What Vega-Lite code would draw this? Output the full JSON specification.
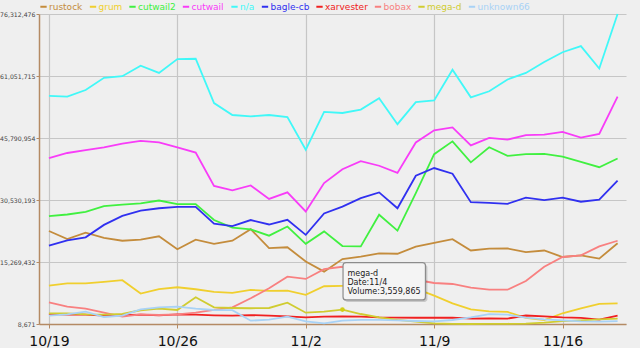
{
  "$schema": "https://vega.github.io/schema/vega-lite/v6.json",
  "width": 587,
  "height": 310,
  "autosize": {"type": "none"},
  "padding": {"left": 39, "top": 14, "right": 14, "bottom": 24},
  "background": "#efefef",
  "config": {
    "view": {"stroke": null},
    "font": "DejaVu Sans",
    "axis": {"titleFont": "DejaVu Sans", "labelFont": "DejaVu Sans"}
  },
  "resolve": {"axis": {"x": "independent", "y": "independent"}},
  "layer": [
    {
      "data": {"name": "series"},
      "mark": {"type": "line", "strokeWidth": 1.8},
      "encoding": {
        "x": {
          "field": "date", "type": "temporal", "title": null,
          "scale": {"type": "utc", "domain": [{"year": 2009, "month": 10, "date": 18, "hours": 11, "utc": true}, {"year": 2009, "month": 11, "date": 19, "hours": 11, "utc": true}]},
          "axis": {
            "values": [{"year": 2009, "month": 10, "date": 19, "utc": true}, {"year": 2009, "month": 10, "date": 26, "utc": true}, {"year": 2009, "month": 11, "date": 2, "utc": true}, {"year": 2009, "month": 11, "date": 9, "utc": true}, {"year": 2009, "month": 11, "date": 16, "utc": true}],
            "labelExpr": "utcFormat(datum.value, '%-m/%-d')", "labelFlush": false,
            "labelFontSize": 14, "labelColor": "#111111", "labelPadding": 6.5,
            "tickSize": 4, "tickColor": "#b48a64", "domainColor": "#b48a64", "domainWidth": 1.5,
            "grid": true, "gridColor": "#c6c6c6", "gridWidth": 1.2
          }
        },
        "y": {
          "field": "value", "type": "quantitative", "title": null,
          "scale": {"domain": [8671, 76312476], "nice": false, "zero": false},
          "axis": {
            "values": [8671, 15269432, 30530193, 45790954, 61051715, 76312476],
            "format": ",d", "labelFlush": false,
            "labelFontSize": 6.2, "labelColor": "#444444", "labelPadding": 1,
            "tickSize": 3, "tickColor": "#b48a64", "domainColor": "#b48a64", "domainWidth": 1.5,
            "grid": true, "gridColor": "#c6c6c6", "gridWidth": 1.2
          }
        },
        "color": {
          "field": "series", "type": "nominal",
          "scale": {
            "domain": ["rustock", "grum", "cutwail2", "cutwail", "n/a", "bagle-cb", "xarvester", "bobax", "mega-d", "unknown66"],
            "range": ["#c48c3c", "#f0cf2e", "#40f040", "#f83cf8", "#40f8f8", "#3030f0", "#f02020", "#f88080", "#d0cc30", "#a8d2f6"]
          },
          "legend": {
            "orient": "none", "direction": "horizontal", "legendX": 0, "legendY": -12,
            "title": null, "padding": 0, "columnPadding": 2.5, "labelOffset": 1,
            "labelFontSize": 9, "labelFont": "DejaVu Sans",
            "symbolType": "stroke", "symbolStrokeWidth": 2, "symbolSize": 40,
            "encode": {"labels": {"update": {"fill": {"scale": "color", "field": "value"}}}}
          }
        }
      }
    },
    {
      "data": {"name": "tip"},
      "mark": {"type": "point", "shape": "circle", "filled": true, "size": 22, "fill": "#d2ce14", "opacity": 1},
      "encoding": {
        "x": {"field": "date", "type": "temporal", "axis": null},
        "y": {"field": "value", "type": "quantitative", "axis": null}
      }
    },
    {
      "data": {"name": "tip"},
      "mark": {"type": "rect", "fill": "#000000", "opacity": 0.16, "cornerRadius": 3,
        "xOffset": 2.2, "x2Offset": 85, "yOffset": -45, "y2Offset": -7.6},
      "encoding": {
        "x": {"field": "date", "type": "temporal", "axis": null},
        "x2": {"field": "date"},
        "y": {"field": "value", "type": "quantitative", "axis": null},
        "y2": {"field": "value"}
      }
    },
    {
      "data": {"name": "tip"},
      "mark": {"type": "rect", "fill": "#f4f4f4", "stroke": "#8c8c8c", "strokeWidth": 1.2, "opacity": 1, "cornerRadius": 3,
        "xOffset": 0.6, "x2Offset": 83, "yOffset": -47, "y2Offset": -9.6},
      "encoding": {
        "x": {"field": "date", "type": "temporal", "axis": null},
        "x2": {"field": "date"},
        "y": {"field": "value", "type": "quantitative", "axis": null},
        "y2": {"field": "value"}
      }
    },
    {
      "data": {"name": "tip"},
      "mark": {"type": "text", "align": "left", "baseline": "top", "dx": 5, "dy": -40, "fontSize": 8, "lineHeight": 9, "lineBreak": "|", "font": "DejaVu Sans", "color": "#222222"},
      "encoding": {
        "x": {"field": "date", "type": "temporal", "axis": null},
        "y": {"field": "value", "type": "quantitative", "axis": null},
        "text": {"field": "tip", "type": "nominal"}
      }
    }
  ],
  "datasets": {
    "tip": [
      {"series": "mega-d", "date": "2009-11-04", "value": 3559865, "tip": "mega-d|Date:11/4|Volume:3,559,865"}
    ],
    "series": [
      {"series": "rustock", "date": "2009-10-19", "value": 22900000},
      {"series": "rustock", "date": "2009-10-20", "value": 20900000},
      {"series": "rustock", "date": "2009-10-21", "value": 22500000},
      {"series": "rustock", "date": "2009-10-22", "value": 21200000},
      {"series": "rustock", "date": "2009-10-23", "value": 20500000},
      {"series": "rustock", "date": "2009-10-24", "value": 20800000},
      {"series": "rustock", "date": "2009-10-25", "value": 21600000},
      {"series": "rustock", "date": "2009-10-26", "value": 18400000},
      {"series": "rustock", "date": "2009-10-27", "value": 20750000},
      {"series": "rustock", "date": "2009-10-28", "value": 19750000},
      {"series": "rustock", "date": "2009-10-29", "value": 20500000},
      {"series": "rustock", "date": "2009-10-30", "value": 23350000},
      {"series": "rustock", "date": "2009-10-31", "value": 18700000},
      {"series": "rustock", "date": "2009-11-01", "value": 18900000},
      {"series": "rustock", "date": "2009-11-02", "value": 15400000},
      {"series": "rustock", "date": "2009-11-03", "value": 12900000},
      {"series": "rustock", "date": "2009-11-04", "value": 16000000},
      {"series": "rustock", "date": "2009-11-05", "value": 16600000},
      {"series": "rustock", "date": "2009-11-06", "value": 17400000},
      {"series": "rustock", "date": "2009-11-07", "value": 17300000},
      {"series": "rustock", "date": "2009-11-08", "value": 19050000},
      {"series": "rustock", "date": "2009-11-09", "value": 20000000},
      {"series": "rustock", "date": "2009-11-10", "value": 20900000},
      {"series": "rustock", "date": "2009-11-11", "value": 18100000},
      {"series": "rustock", "date": "2009-11-12", "value": 18550000},
      {"series": "rustock", "date": "2009-11-13", "value": 18600000},
      {"series": "rustock", "date": "2009-11-14", "value": 17700000},
      {"series": "rustock", "date": "2009-11-15", "value": 18100000},
      {"series": "rustock", "date": "2009-11-16", "value": 16500000},
      {"series": "rustock", "date": "2009-11-17", "value": 16900000},
      {"series": "rustock", "date": "2009-11-18", "value": 16100000},
      {"series": "rustock", "date": "2009-11-19", "value": 19900000},
      {"series": "grum", "date": "2009-10-19", "value": 9450000},
      {"series": "grum", "date": "2009-10-20", "value": 10000000},
      {"series": "grum", "date": "2009-10-21", "value": 10000000},
      {"series": "grum", "date": "2009-10-22", "value": 10400000},
      {"series": "grum", "date": "2009-10-23", "value": 10800000},
      {"series": "grum", "date": "2009-10-24", "value": 7500000},
      {"series": "grum", "date": "2009-10-25", "value": 8600000},
      {"series": "grum", "date": "2009-10-26", "value": 9050000},
      {"series": "grum", "date": "2009-10-27", "value": 8560000},
      {"series": "grum", "date": "2009-10-28", "value": 7900000},
      {"series": "grum", "date": "2009-10-29", "value": 7650000},
      {"series": "grum", "date": "2009-10-30", "value": 8400000},
      {"series": "grum", "date": "2009-10-31", "value": 8150000},
      {"series": "grum", "date": "2009-11-01", "value": 8200000},
      {"series": "grum", "date": "2009-11-02", "value": 7200000},
      {"series": "grum", "date": "2009-11-03", "value": 9300000},
      {"series": "grum", "date": "2009-11-04", "value": 9380000},
      {"series": "grum", "date": "2009-11-05", "value": 9500000},
      {"series": "grum", "date": "2009-11-06", "value": 9600000},
      {"series": "grum", "date": "2009-11-07", "value": 9300000},
      {"series": "grum", "date": "2009-11-08", "value": 8700000},
      {"series": "grum", "date": "2009-11-09", "value": 7000000},
      {"series": "grum", "date": "2009-11-10", "value": 5100000},
      {"series": "grum", "date": "2009-11-11", "value": 3630000},
      {"series": "grum", "date": "2009-11-12", "value": 3100000},
      {"series": "grum", "date": "2009-11-13", "value": 2970000},
      {"series": "grum", "date": "2009-11-14", "value": 1500000},
      {"series": "grum", "date": "2009-11-15", "value": 1000000},
      {"series": "grum", "date": "2009-11-16", "value": 2650000},
      {"series": "grum", "date": "2009-11-17", "value": 3880000},
      {"series": "grum", "date": "2009-11-18", "value": 4940000},
      {"series": "grum", "date": "2009-11-19", "value": 5100000},
      {"series": "cutwail2", "date": "2009-10-19", "value": 26560000},
      {"series": "cutwail2", "date": "2009-10-20", "value": 26960000},
      {"series": "cutwail2", "date": "2009-10-21", "value": 27600000},
      {"series": "cutwail2", "date": "2009-10-22", "value": 29000000},
      {"series": "cutwail2", "date": "2009-10-23", "value": 29400000},
      {"series": "cutwail2", "date": "2009-10-24", "value": 29700000},
      {"series": "cutwail2", "date": "2009-10-25", "value": 30400000},
      {"series": "cutwail2", "date": "2009-10-26", "value": 29500000},
      {"series": "cutwail2", "date": "2009-10-27", "value": 29500000},
      {"series": "cutwail2", "date": "2009-10-28", "value": 25600000},
      {"series": "cutwail2", "date": "2009-10-29", "value": 23750000},
      {"series": "cutwail2", "date": "2009-10-30", "value": 23300000},
      {"series": "cutwail2", "date": "2009-10-31", "value": 21750000},
      {"series": "cutwail2", "date": "2009-11-01", "value": 24000000},
      {"series": "cutwail2", "date": "2009-11-02", "value": 19750000},
      {"series": "cutwail2", "date": "2009-11-03", "value": 22800000},
      {"series": "cutwail2", "date": "2009-11-04", "value": 19200000},
      {"series": "cutwail2", "date": "2009-11-05", "value": 19100000},
      {"series": "cutwail2", "date": "2009-11-06", "value": 26900000},
      {"series": "cutwail2", "date": "2009-11-07", "value": 23000000},
      {"series": "cutwail2", "date": "2009-11-08", "value": 32200000},
      {"series": "cutwail2", "date": "2009-11-09", "value": 41800000},
      {"series": "cutwail2", "date": "2009-11-10", "value": 44960000},
      {"series": "cutwail2", "date": "2009-11-11", "value": 39800000},
      {"series": "cutwail2", "date": "2009-11-12", "value": 43500000},
      {"series": "cutwail2", "date": "2009-11-13", "value": 41400000},
      {"series": "cutwail2", "date": "2009-11-14", "value": 41800000},
      {"series": "cutwail2", "date": "2009-11-15", "value": 41900000},
      {"series": "cutwail2", "date": "2009-11-16", "value": 41200000},
      {"series": "cutwail2", "date": "2009-11-17", "value": 39900000},
      {"series": "cutwail2", "date": "2009-11-18", "value": 38600000},
      {"series": "cutwail2", "date": "2009-11-19", "value": 40750000},
      {"series": "cutwail", "date": "2009-10-19", "value": 40850000},
      {"series": "cutwail", "date": "2009-10-20", "value": 42100000},
      {"series": "cutwail", "date": "2009-10-21", "value": 42800000},
      {"series": "cutwail", "date": "2009-10-22", "value": 43470000},
      {"series": "cutwail", "date": "2009-10-23", "value": 44400000},
      {"series": "cutwail", "date": "2009-10-24", "value": 45100000},
      {"series": "cutwail", "date": "2009-10-25", "value": 44700000},
      {"series": "cutwail", "date": "2009-10-26", "value": 43500000},
      {"series": "cutwail", "date": "2009-10-27", "value": 42200000},
      {"series": "cutwail", "date": "2009-10-28", "value": 34000000},
      {"series": "cutwail", "date": "2009-10-29", "value": 32900000},
      {"series": "cutwail", "date": "2009-10-30", "value": 34100000},
      {"series": "cutwail", "date": "2009-10-31", "value": 30800000},
      {"series": "cutwail", "date": "2009-11-01", "value": 32400000},
      {"series": "cutwail", "date": "2009-11-02", "value": 27700000},
      {"series": "cutwail", "date": "2009-11-03", "value": 34700000},
      {"series": "cutwail", "date": "2009-11-04", "value": 38100000},
      {"series": "cutwail", "date": "2009-11-05", "value": 40100000},
      {"series": "cutwail", "date": "2009-11-06", "value": 38960000},
      {"series": "cutwail", "date": "2009-11-07", "value": 37200000},
      {"series": "cutwail", "date": "2009-11-08", "value": 44700000},
      {"series": "cutwail", "date": "2009-11-09", "value": 47700000},
      {"series": "cutwail", "date": "2009-11-10", "value": 48400000},
      {"series": "cutwail", "date": "2009-11-11", "value": 43960000},
      {"series": "cutwail", "date": "2009-11-12", "value": 45800000},
      {"series": "cutwail", "date": "2009-11-13", "value": 45400000},
      {"series": "cutwail", "date": "2009-11-14", "value": 46500000},
      {"series": "cutwail", "date": "2009-11-15", "value": 46600000},
      {"series": "cutwail", "date": "2009-11-16", "value": 47300000},
      {"series": "cutwail", "date": "2009-11-17", "value": 45900000},
      {"series": "cutwail", "date": "2009-11-18", "value": 46800000},
      {"series": "cutwail", "date": "2009-11-19", "value": 56000000},
      {"series": "n/a", "date": "2009-10-19", "value": 56140000},
      {"series": "n/a", "date": "2009-10-20", "value": 55970000},
      {"series": "n/a", "date": "2009-10-21", "value": 57600000},
      {"series": "n/a", "date": "2009-10-22", "value": 60600000},
      {"series": "n/a", "date": "2009-10-23", "value": 61000000},
      {"series": "n/a", "date": "2009-10-24", "value": 63600000},
      {"series": "n/a", "date": "2009-10-25", "value": 61800000},
      {"series": "n/a", "date": "2009-10-26", "value": 65200000},
      {"series": "n/a", "date": "2009-10-27", "value": 65300000},
      {"series": "n/a", "date": "2009-10-28", "value": 54400000},
      {"series": "n/a", "date": "2009-10-29", "value": 51450000},
      {"series": "n/a", "date": "2009-10-30", "value": 51100000},
      {"series": "n/a", "date": "2009-10-31", "value": 51450000},
      {"series": "n/a", "date": "2009-11-01", "value": 50960000},
      {"series": "n/a", "date": "2009-11-02", "value": 42900000},
      {"series": "n/a", "date": "2009-11-03", "value": 52200000},
      {"series": "n/a", "date": "2009-11-04", "value": 51950000},
      {"series": "n/a", "date": "2009-11-05", "value": 52800000},
      {"series": "n/a", "date": "2009-11-06", "value": 55600000},
      {"series": "n/a", "date": "2009-11-07", "value": 49200000},
      {"series": "n/a", "date": "2009-11-08", "value": 54600000},
      {"series": "n/a", "date": "2009-11-09", "value": 55050000},
      {"series": "n/a", "date": "2009-11-10", "value": 62600000},
      {"series": "n/a", "date": "2009-11-11", "value": 55800000},
      {"series": "n/a", "date": "2009-11-12", "value": 57300000},
      {"series": "n/a", "date": "2009-11-13", "value": 60200000},
      {"series": "n/a", "date": "2009-11-14", "value": 61800000},
      {"series": "n/a", "date": "2009-11-15", "value": 64500000},
      {"series": "n/a", "date": "2009-11-16", "value": 66900000},
      {"series": "n/a", "date": "2009-11-17", "value": 68400000},
      {"series": "n/a", "date": "2009-11-18", "value": 62900000},
      {"series": "n/a", "date": "2009-11-19", "value": 76312476},
      {"series": "bagle-cb", "date": "2009-10-19", "value": 19300000},
      {"series": "bagle-cb", "date": "2009-10-20", "value": 20600000},
      {"series": "bagle-cb", "date": "2009-10-21", "value": 21350000},
      {"series": "bagle-cb", "date": "2009-10-22", "value": 24400000},
      {"series": "bagle-cb", "date": "2009-10-23", "value": 26600000},
      {"series": "bagle-cb", "date": "2009-10-24", "value": 27900000},
      {"series": "bagle-cb", "date": "2009-10-25", "value": 28500000},
      {"series": "bagle-cb", "date": "2009-10-26", "value": 28850000},
      {"series": "bagle-cb", "date": "2009-10-27", "value": 28850000},
      {"series": "bagle-cb", "date": "2009-10-28", "value": 24700000},
      {"series": "bagle-cb", "date": "2009-10-29", "value": 24100000},
      {"series": "bagle-cb", "date": "2009-10-30", "value": 25600000},
      {"series": "bagle-cb", "date": "2009-10-31", "value": 24500000},
      {"series": "bagle-cb", "date": "2009-11-01", "value": 25650000},
      {"series": "bagle-cb", "date": "2009-11-02", "value": 21950000},
      {"series": "bagle-cb", "date": "2009-11-03", "value": 27200000},
      {"series": "bagle-cb", "date": "2009-11-04", "value": 28900000},
      {"series": "bagle-cb", "date": "2009-11-05", "value": 31000000},
      {"series": "bagle-cb", "date": "2009-11-06", "value": 32400000},
      {"series": "bagle-cb", "date": "2009-11-07", "value": 28500000},
      {"series": "bagle-cb", "date": "2009-11-08", "value": 36500000},
      {"series": "bagle-cb", "date": "2009-11-09", "value": 38400000},
      {"series": "bagle-cb", "date": "2009-11-10", "value": 37000000},
      {"series": "bagle-cb", "date": "2009-11-11", "value": 30000000},
      {"series": "bagle-cb", "date": "2009-11-12", "value": 29800000},
      {"series": "bagle-cb", "date": "2009-11-13", "value": 29600000},
      {"series": "bagle-cb", "date": "2009-11-14", "value": 31100000},
      {"series": "bagle-cb", "date": "2009-11-15", "value": 30500000},
      {"series": "bagle-cb", "date": "2009-11-16", "value": 31100000},
      {"series": "bagle-cb", "date": "2009-11-17", "value": 30100000},
      {"series": "bagle-cb", "date": "2009-11-18", "value": 30600000},
      {"series": "bagle-cb", "date": "2009-11-19", "value": 35300000},
      {"series": "xarvester", "date": "2009-10-19", "value": 2470000},
      {"series": "xarvester", "date": "2009-10-20", "value": 2300000},
      {"series": "xarvester", "date": "2009-10-21", "value": 2300000},
      {"series": "xarvester", "date": "2009-10-22", "value": 2050000},
      {"series": "xarvester", "date": "2009-10-23", "value": 2200000},
      {"series": "xarvester", "date": "2009-10-24", "value": 2300000},
      {"series": "xarvester", "date": "2009-10-25", "value": 2150000},
      {"series": "xarvester", "date": "2009-10-26", "value": 2400000},
      {"series": "xarvester", "date": "2009-10-27", "value": 2300000},
      {"series": "xarvester", "date": "2009-10-28", "value": 2150000},
      {"series": "xarvester", "date": "2009-10-29", "value": 2050000},
      {"series": "xarvester", "date": "2009-10-30", "value": 2200000},
      {"series": "xarvester", "date": "2009-10-31", "value": 2050000},
      {"series": "xarvester", "date": "2009-11-01", "value": 1900000},
      {"series": "xarvester", "date": "2009-11-02", "value": 1660000},
      {"series": "xarvester", "date": "2009-11-03", "value": 1800000},
      {"series": "xarvester", "date": "2009-11-04", "value": 1850000},
      {"series": "xarvester", "date": "2009-11-05", "value": 1800000},
      {"series": "xarvester", "date": "2009-11-06", "value": 1620000},
      {"series": "xarvester", "date": "2009-11-07", "value": 1600000},
      {"series": "xarvester", "date": "2009-11-08", "value": 1550000},
      {"series": "xarvester", "date": "2009-11-09", "value": 1550000},
      {"series": "xarvester", "date": "2009-11-10", "value": 1600000},
      {"series": "xarvester", "date": "2009-11-11", "value": 1350000},
      {"series": "xarvester", "date": "2009-11-12", "value": 1400000},
      {"series": "xarvester", "date": "2009-11-13", "value": 1350000},
      {"series": "xarvester", "date": "2009-11-14", "value": 2100000},
      {"series": "xarvester", "date": "2009-11-15", "value": 1900000},
      {"series": "xarvester", "date": "2009-11-16", "value": 1660000},
      {"series": "xarvester", "date": "2009-11-17", "value": 1530000},
      {"series": "xarvester", "date": "2009-11-18", "value": 1100000},
      {"series": "xarvester", "date": "2009-11-19", "value": 2050000},
      {"series": "bobax", "date": "2009-10-19", "value": 5360000},
      {"series": "bobax", "date": "2009-10-20", "value": 4270000},
      {"series": "bobax", "date": "2009-10-21", "value": 3780000},
      {"series": "bobax", "date": "2009-10-22", "value": 2790000},
      {"series": "bobax", "date": "2009-10-23", "value": 1810000},
      {"series": "bobax", "date": "2009-10-24", "value": 2400000},
      {"series": "bobax", "date": "2009-10-25", "value": 2230000},
      {"series": "bobax", "date": "2009-10-26", "value": 2400000},
      {"series": "bobax", "date": "2009-10-27", "value": 2800000},
      {"series": "bobax", "date": "2009-10-28", "value": 3460000},
      {"series": "bobax", "date": "2009-10-29", "value": 4100000},
      {"series": "bobax", "date": "2009-10-30", "value": 6340000},
      {"series": "bobax", "date": "2009-10-31", "value": 8800000},
      {"series": "bobax", "date": "2009-11-01", "value": 11670000},
      {"series": "bobax", "date": "2009-11-02", "value": 11100000},
      {"series": "bobax", "date": "2009-11-03", "value": 13500000},
      {"series": "bobax", "date": "2009-11-04", "value": 14100000},
      {"series": "bobax", "date": "2009-11-05", "value": 13700000},
      {"series": "bobax", "date": "2009-11-06", "value": 12800000},
      {"series": "bobax", "date": "2009-11-07", "value": 11900000},
      {"series": "bobax", "date": "2009-11-08", "value": 10900000},
      {"series": "bobax", "date": "2009-11-09", "value": 10100000},
      {"series": "bobax", "date": "2009-11-10", "value": 9860000},
      {"series": "bobax", "date": "2009-11-11", "value": 8950000},
      {"series": "bobax", "date": "2009-11-12", "value": 8450000},
      {"series": "bobax", "date": "2009-11-13", "value": 8450000},
      {"series": "bobax", "date": "2009-11-14", "value": 10600000},
      {"series": "bobax", "date": "2009-11-15", "value": 14100000},
      {"series": "bobax", "date": "2009-11-16", "value": 16500000},
      {"series": "bobax", "date": "2009-11-17", "value": 16900000},
      {"series": "bobax", "date": "2009-11-18", "value": 19100000},
      {"series": "bobax", "date": "2009-11-19", "value": 20500000},
      {"series": "mega-d", "date": "2009-10-19", "value": 2640000},
      {"series": "mega-d", "date": "2009-10-20", "value": 2640000},
      {"series": "mega-d", "date": "2009-10-21", "value": 2400000},
      {"series": "mega-d", "date": "2009-10-22", "value": 2300000},
      {"series": "mega-d", "date": "2009-10-23", "value": 2500000},
      {"series": "mega-d", "date": "2009-10-24", "value": 3390000},
      {"series": "mega-d", "date": "2009-10-25", "value": 3780000},
      {"series": "mega-d", "date": "2009-10-26", "value": 3460000},
      {"series": "mega-d", "date": "2009-10-27", "value": 6590000},
      {"series": "mega-d", "date": "2009-10-28", "value": 4100000},
      {"series": "mega-d", "date": "2009-10-29", "value": 3950000},
      {"series": "mega-d", "date": "2009-10-30", "value": 3880000},
      {"series": "mega-d", "date": "2009-10-31", "value": 3950000},
      {"series": "mega-d", "date": "2009-11-01", "value": 5260000},
      {"series": "mega-d", "date": "2009-11-02", "value": 2790000},
      {"series": "mega-d", "date": "2009-11-03", "value": 3040000},
      {"series": "mega-d", "date": "2009-11-04", "value": 3559865},
      {"series": "mega-d", "date": "2009-11-05", "value": 2470000},
      {"series": "mega-d", "date": "2009-11-06", "value": 1660000},
      {"series": "mega-d", "date": "2009-11-07", "value": 1000000},
      {"series": "mega-d", "date": "2009-11-08", "value": 580000},
      {"series": "mega-d", "date": "2009-11-09", "value": 180000},
      {"series": "mega-d", "date": "2009-11-10", "value": 50000},
      {"series": "mega-d", "date": "2009-11-11", "value": 8671},
      {"series": "mega-d", "date": "2009-11-12", "value": 30000},
      {"series": "mega-d", "date": "2009-11-13", "value": 60000},
      {"series": "mega-d", "date": "2009-11-14", "value": 100000},
      {"series": "mega-d", "date": "2009-11-15", "value": 330000},
      {"series": "mega-d", "date": "2009-11-16", "value": 700000},
      {"series": "mega-d", "date": "2009-11-17", "value": 900000},
      {"series": "mega-d", "date": "2009-11-18", "value": 1150000},
      {"series": "mega-d", "date": "2009-11-19", "value": 1350000},
      {"series": "unknown66", "date": "2009-10-19", "value": 2050000},
      {"series": "unknown66", "date": "2009-10-20", "value": 2400000},
      {"series": "unknown66", "date": "2009-10-21", "value": 3040000},
      {"series": "unknown66", "date": "2009-10-22", "value": 1730000},
      {"series": "unknown66", "date": "2009-10-23", "value": 2050000},
      {"series": "unknown66", "date": "2009-10-24", "value": 3630000},
      {"series": "unknown66", "date": "2009-10-25", "value": 4120000},
      {"series": "unknown66", "date": "2009-10-26", "value": 4270000},
      {"series": "unknown66", "date": "2009-10-27", "value": 3780000},
      {"series": "unknown66", "date": "2009-10-28", "value": 3460000},
      {"series": "unknown66", "date": "2009-10-29", "value": 3400000},
      {"series": "unknown66", "date": "2009-10-30", "value": 820000},
      {"series": "unknown66", "date": "2009-10-31", "value": 1070000},
      {"series": "unknown66", "date": "2009-11-01", "value": 1810000},
      {"series": "unknown66", "date": "2009-11-02", "value": 670000},
      {"series": "unknown66", "date": "2009-11-03", "value": 180000},
      {"series": "unknown66", "date": "2009-11-04", "value": 820000},
      {"series": "unknown66", "date": "2009-11-05", "value": 1000000},
      {"series": "unknown66", "date": "2009-11-06", "value": 1000000},
      {"series": "unknown66", "date": "2009-11-07", "value": 900000},
      {"series": "unknown66", "date": "2009-11-08", "value": 750000},
      {"series": "unknown66", "date": "2009-11-09", "value": 670000},
      {"series": "unknown66", "date": "2009-11-10", "value": 990000},
      {"series": "unknown66", "date": "2009-11-11", "value": 1660000},
      {"series": "unknown66", "date": "2009-11-12", "value": 2450000},
      {"series": "unknown66", "date": "2009-11-13", "value": 2300000},
      {"series": "unknown66", "date": "2009-11-14", "value": 1600000},
      {"series": "unknown66", "date": "2009-11-15", "value": 1160000},
      {"series": "unknown66", "date": "2009-11-16", "value": 900000},
      {"series": "unknown66", "date": "2009-11-17", "value": 670000},
      {"series": "unknown66", "date": "2009-11-18", "value": 580000},
      {"series": "unknown66", "date": "2009-11-19", "value": 700000}
    ]
  }
}
